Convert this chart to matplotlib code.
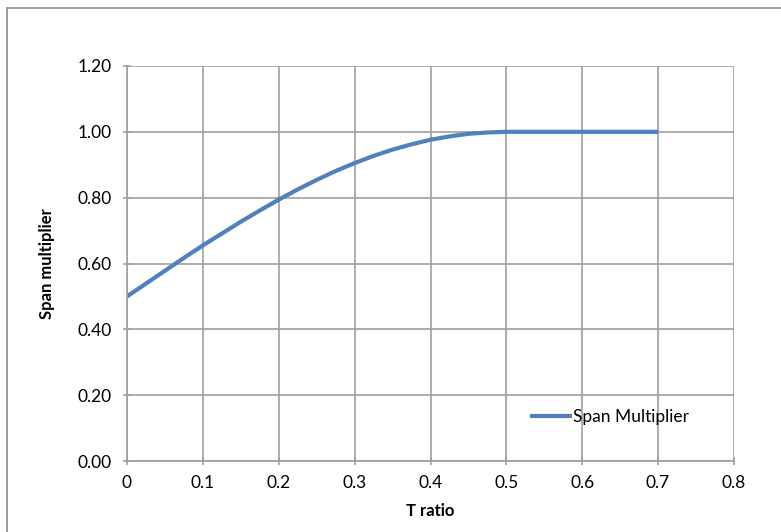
import matplotlib
matplotlib.use("Agg")
import matplotlib.pyplot as plt
from matplotlib.patches import Rectangle

plt.rcParams['font.family'] = ['Lato', 'DejaVu Sans']

t_ratio = [0.0, 0.025, 0.05, 0.075, 0.1, 0.125, 0.15, 0.175, 0.2, 0.225, 0.25, 0.275,
           0.3, 0.325, 0.35, 0.375, 0.4, 0.425, 0.45, 0.475, 0.5, 0.55, 0.6, 0.65, 0.7]
span_mult = [0.500, 0.539, 0.578, 0.617, 0.655, 0.691, 0.727, 0.761, 0.794, 0.825, 0.854, 0.881,
             0.905, 0.927, 0.946, 0.962, 0.976, 0.986, 0.994, 0.998, 1.000, 1.000, 1.000, 1.000, 1.000]
xticks = [0, 0.1, 0.2, 0.3, 0.4, 0.5, 0.6, 0.7, 0.8]
xtick_labels = ['0', '0.1', '0.2', '0.3', '0.4', '0.5', '0.6', '0.7', '0.8']
yticks = [0.0, 0.2, 0.4, 0.6, 0.8, 1.0, 1.2]
ytick_labels = ['0.00', '0.20', '0.40', '0.60', '0.80', '1.00', '1.20']

W, H = 781, 532
fig = plt.figure(figsize=(W / 100, H / 100), dpi=100)
fig.patches.append(Rectangle((7.5 / W, -0.1), 2, 1 - 8 / H + 0.1, transform=fig.transFigure,
                             fill=False, edgecolor='#8c8c8c', linewidth=1.2))

ax = fig.add_axes([127 / W, 1 - 461 / H, (734 - 127) / W, (461 - 66) / H])
ax.plot(t_ratio, span_mult, color='#4f81bd', linewidth=3, label='Span Multiplier',
        solid_capstyle='butt')
ax.set_xlim(0, 0.8)
ax.set_ylim(0, 1.2)
ax.set_xticks(xticks)
ax.set_xticklabels(xtick_labels)
ax.set_yticks(yticks)
ax.set_yticklabels(ytick_labels)
ax.grid(True, color='#a0a0a0', linewidth=1.2)
ax.set_axisbelow(True)
for s in ax.spines.values():
    s.set_color('#a0a0a0')
    s.set_linewidth(1.2)
ax.spines['top'].set_visible(False)
ax.spines['right'].set_visible(False)
ax.tick_params(axis='both', colors='#a0a0a0', labelcolor='black', labelsize=12.5,
               direction='inout', length=6, width=1.2)
ax.tick_params(axis='y', pad=8)
ax.tick_params(axis='x', pad=7)
ax.set_xlabel('T ratio', fontsize=12, fontweight='bold', labelpad=9)
ax.set_ylabel('Span multiplier', fontsize=12, fontweight='bold', labelpad=16)
leg = ax.legend(loc='center left', bbox_to_anchor=((530 - 127) / (734 - 127), (461 - 417) / (461 - 66)),
                frameon=False, fontsize=12.5, handlelength=2.4, handletextpad=0.1,
                borderaxespad=0, borderpad=0)
fig.savefig('out.png', dpi=100)
